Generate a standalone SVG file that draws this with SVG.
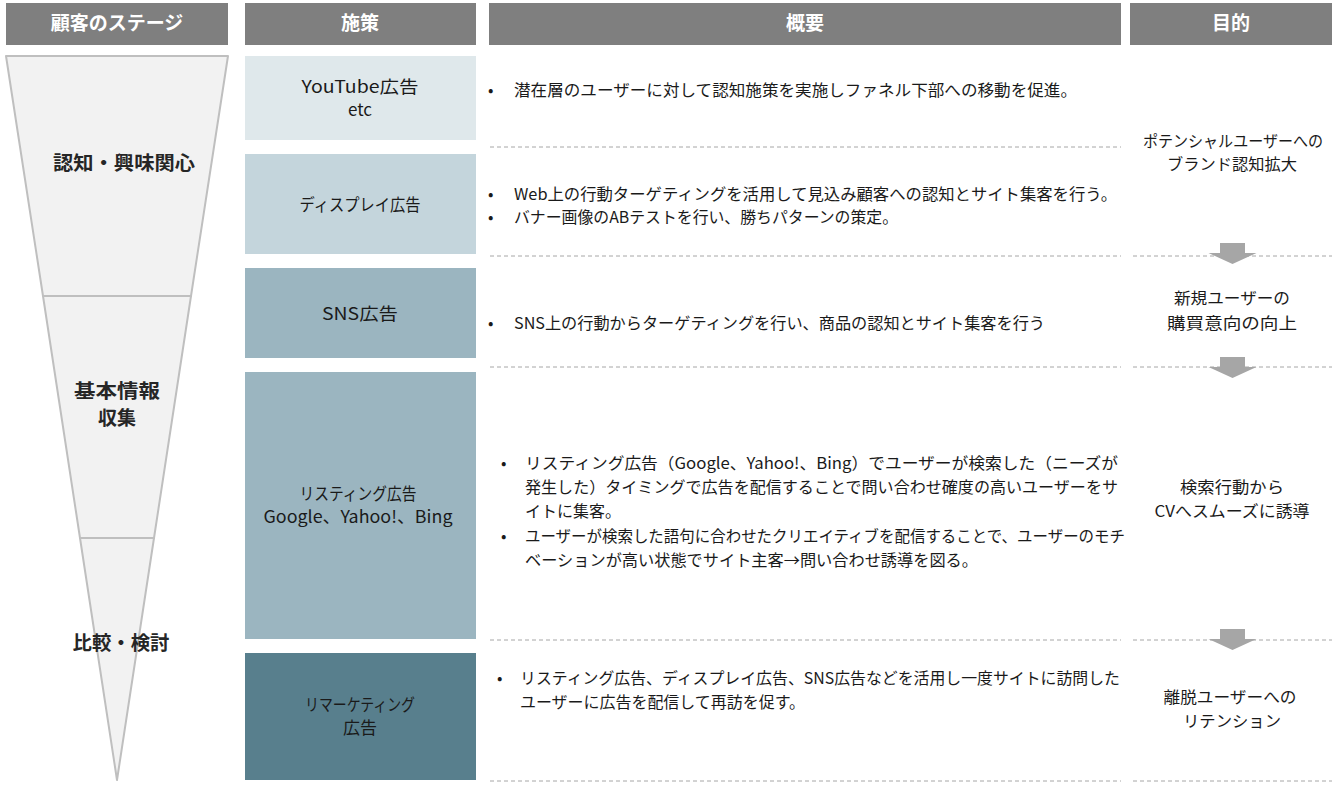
<svg xmlns="http://www.w3.org/2000/svg" width="1337" height="794" viewBox="0 0 1337 794">
<style>
text{font-family:"Noto Sans CJK JP","Noto Sans",sans-serif;fill:#1a1a1a;}
.hd{fill:#7f7f7f;}
.hdt{fill:#ffffff;font-size:19px;font-weight:bold;text-anchor:middle;}
.fun{fill:#f2f2f2;stroke:#bfbfbf;stroke-width:2;stroke-linejoin:round;}
.fl{font-size:19px;font-weight:bold;text-anchor:middle;fill:#262626;}
.c2{font-size:17px;text-anchor:middle;}
.c3{font-size:16px;}
.c4{font-size:16px;text-anchor:middle;}
.sep{stroke:#a6a6a6;stroke-width:1;stroke-dasharray:4 3;fill:none;}
.arr{fill:#a6a6a6;}
</style>
<defs>
<path id="downArrow" d="M-12.5 0 H12.5 V10 H24 L0 21 L-24 10 H-12.5 Z"/>
</defs>
<rect width="1337" height="794" fill="#ffffff"/>

<g id="headers">
<g id="header-stage"><rect class="hd" x="6" y="3" width="222" height="42"/><text class="hdt" x="117" y="30">顧客のステージ</text></g>
<g id="header-measure"><rect class="hd" x="245" y="3" width="231" height="42"/><text class="hdt" x="360" y="30">施策</text></g>
<g id="header-summary"><rect class="hd" x="489" y="3" width="632" height="42"/><text class="hdt" x="805" y="30">概要</text></g>
<g id="header-purpose"><rect class="hd" x="1130" y="3" width="202" height="42"/><text class="hdt" x="1231" y="30">目的</text></g>
</g>

<g id="funnel">
<g id="stage-awareness"><polygon class="fun" points="6,56 228,56 191,296 43,296"/><text class="fl" x="124" y="170" textLength="142" lengthAdjust="spacingAndGlyphs">認知・興味関心</text></g>
<g id="stage-info"><polygon class="fun" points="43,296 191,296 154,538 80,538"/><text class="fl" x="117" y="398" textLength="86" lengthAdjust="spacingAndGlyphs">基本情報</text><text class="fl" x="117" y="425">収集</text></g>
<g id="stage-compare"><polygon class="fun" points="80,538 154,538 117,780"/><text class="fl" x="121" y="650" textLength="97" lengthAdjust="spacingAndGlyphs">比較・検討</text></g>
</g>

<g id="measures">
<g id="m-youtube"><rect x="245" y="56" width="231" height="84" fill="#dfe8eb"/><text class="c2" x="360" y="93" textLength="117" lengthAdjust="spacingAndGlyphs">YouTube広告</text><text class="c2" x="360" y="116">etc</text></g>
<g id="m-display"><rect x="245" y="154" width="231" height="100" fill="#c4d5dc"/><text class="c2" x="360" y="211" textLength="121" lengthAdjust="spacingAndGlyphs">ディスプレイ広告</text></g>
<g id="m-sns"><rect x="245" y="268" width="231" height="90" fill="#9bb5c0"/><text class="c2" x="360" y="320" textLength="76" lengthAdjust="spacingAndGlyphs">SNS広告</text></g>
<g id="m-listing"><rect x="245" y="372" width="231" height="267" fill="#9bb5c0"/><text class="c2" x="358" y="500" textLength="117" lengthAdjust="spacingAndGlyphs">リスティング広告</text><text class="c2" x="358" y="523" textLength="189" lengthAdjust="spacingAndGlyphs">Google、Yahoo!、Bing</text></g>
<g id="m-remarketing"><rect x="245" y="653" width="231" height="127" fill="#587f8d"/><text class="c2" x="360" y="711" textLength="110" lengthAdjust="spacingAndGlyphs">リマーケティング</text><text class="c2" x="360" y="734">広告</text></g>
</g>

<g id="separators">
<line class="sep" x1="490" y1="147" x2="1121" y2="147"/>
<line class="sep" x1="490" y1="256" x2="1121" y2="256"/>
<line class="sep" x1="490" y1="367" x2="1121" y2="367"/>
<line class="sep" x1="490" y1="640" x2="1121" y2="640"/>
<line class="sep" x1="490" y1="781" x2="1121" y2="781"/>
<line class="sep" x1="1133" y1="256" x2="1332" y2="256"/>
<line class="sep" x1="1133" y1="367" x2="1332" y2="367"/>
<line class="sep" x1="1133" y1="640" x2="1332" y2="640"/>
<line class="sep" x1="1133" y1="781" x2="1332" y2="781"/>
</g>

<g id="summaries">
<g id="s-youtube"><text class="c3" x="488" y="96">•</text><text class="c3" x="514" y="96" textLength="563" lengthAdjust="spacingAndGlyphs">潜在層のユーザーに対して認知施策を実施しファネル下部への移動を促進。</text></g>
<g id="s-display"><text class="c3" x="488" y="200">•</text><text class="c3" x="514" y="200" textLength="603" lengthAdjust="spacingAndGlyphs">Web上の行動ターゲティングを活用して見込み顧客への認知とサイト集客を行う。</text><text class="c3" x="488" y="223">•</text><text class="c3" x="514" y="223" textLength="384" lengthAdjust="spacingAndGlyphs">バナー画像のABテストを行い、勝ちパターンの策定。</text></g>
<g id="s-sns"><text class="c3" x="488" y="329">•</text><text class="c3" x="514" y="329" textLength="531" lengthAdjust="spacingAndGlyphs">SNS上の行動からターゲティングを行い、商品の認知とサイト集客を行う</text></g>
<g id="s-listing"><text class="c3" x="501" y="469">•</text><text class="c3" x="525" y="469" textLength="593" lengthAdjust="spacingAndGlyphs">リスティング広告（Google、Yahoo!、Bing）でユーザーが検索した（ニーズが</text><text class="c3" x="525" y="493" textLength="593" lengthAdjust="spacingAndGlyphs">発生した）タイミングで広告を配信することで問い合わせ確度の高いユーザーをサ</text><text class="c3" x="525" y="517">イトに集客。</text><text class="c3" x="501" y="542">•</text><text class="c3" x="525" y="542" textLength="600" lengthAdjust="spacingAndGlyphs">ユーザーが検索した語句に合わせたクリエイティブを配信することで、ユーザーのモチ</text><text class="c3" x="525" y="566" textLength="453" lengthAdjust="spacingAndGlyphs">ベーションが高い状態でサイト主客→問い合わせ誘導を図る。</text></g>
<g id="s-remarketing"><text class="c3" x="497" y="684">•</text><text class="c3" x="520" y="684" textLength="600" lengthAdjust="spacingAndGlyphs">リスティング広告、ディスプレイ広告、SNS広告などを活用し一度サイトに訪問した</text><text class="c3" x="520" y="708" textLength="285" lengthAdjust="spacingAndGlyphs">ユーザーに広告を配信して再訪を促す。</text></g>
</g>

<g id="purposes">
<g id="p-brand"><text class="c4" x="1233" y="147" textLength="180" lengthAdjust="spacingAndGlyphs">ポテンシャルユーザーへの</text><text class="c4" x="1232" y="170" textLength="130" lengthAdjust="spacingAndGlyphs">ブランド認知拡大</text></g>
<g id="p-new"><text class="c4" x="1232" y="304" textLength="116" lengthAdjust="spacingAndGlyphs">新規ユーザーの</text><text class="c4" x="1232" y="329" textLength="130" lengthAdjust="spacingAndGlyphs">購買意向の向上</text></g>
<g id="p-search"><text class="c4" x="1232" y="493" textLength="104" lengthAdjust="spacingAndGlyphs">検索行動から</text><text class="c4" x="1232" y="517" textLength="155" lengthAdjust="spacingAndGlyphs">CVへスムーズに誘導</text></g>
<g id="p-retention"><text class="c4" x="1230" y="703" textLength="133" lengthAdjust="spacingAndGlyphs">離脱ユーザーへの</text><text class="c4" x="1232" y="727" textLength="98" lengthAdjust="spacingAndGlyphs">リテンション</text></g>
</g>

<g id="connectors">
<use href="#downArrow" class="arr" transform="translate(1232.5,243)"/>
<use href="#downArrow" class="arr" transform="translate(1232.5,357)"/>
<use href="#downArrow" class="arr" transform="translate(1232.5,629)"/>
</g>
</svg>
